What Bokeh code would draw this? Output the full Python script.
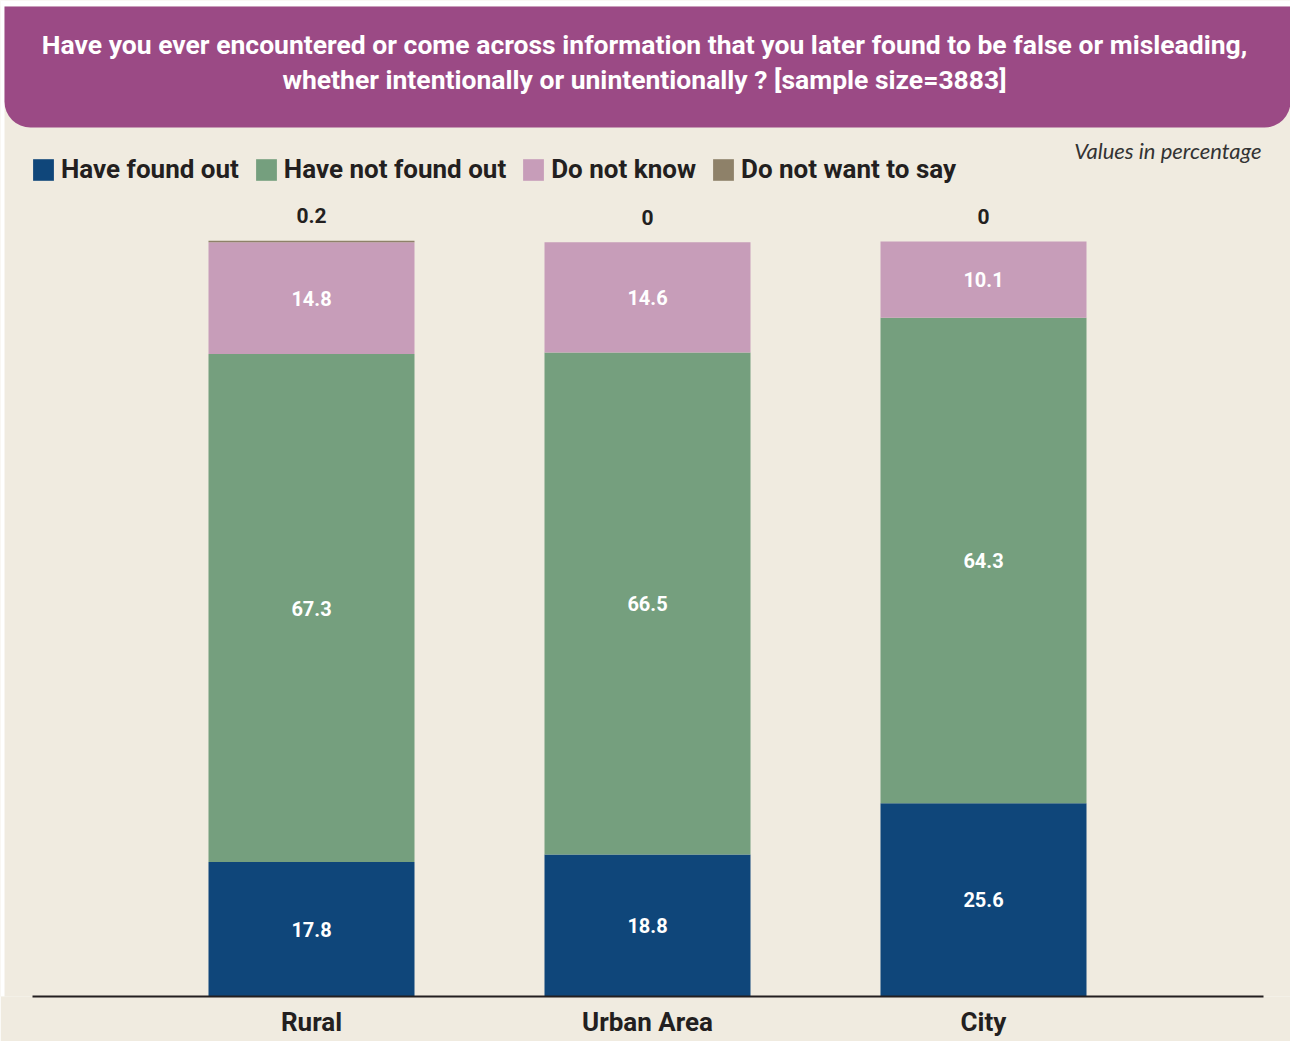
import numpy as np
from bokeh.plotting import figure
from bokeh.models import (ColumnDataSource, Range1d, BoxAnnotation, Legend,
                          LegendItem, FixedTicker)
from bokeh.core.properties import value
from bokeh.embed import file_html
from bokeh.resources import INLINE

# ---------------- data ----------------
categories = ["Rural", "Urban Area", "City"]
have_found_out = [17.8, 18.8, 25.6]
have_not_found_out = [67.3, 66.5, 64.3]
do_not_know = [14.8, 14.6, 10.1]
do_not_want_to_say = [0.2, 0, 0]
series_names = ["Have found out", "Have not found out", "Do not know", "Do not want to say"]
title_lines = [
    "Have you ever encountered or come across information that you later found to be false or misleading,",
    "whether intentionally or unintentionally ? [sample size=3883]",
]
note_text = ["Values in percentage"]

# ---------------- style ----------------
BG = "#F0EBE0"
PURPLE = "#9B4A85"
COLORS = ["#0F467A", "#759F7E", "#C79DB9", "#8E8169"]
DARK = "#231F20"
FONT = "Roboto"

W, H = 1290, 1041
FRAME_H = 996
PX_PER_CAT = 336.0
PX_PER_PCT = 7.55
X0_PX = 311.0


def xd(px):
    return (px - X0_PX) / PX_PER_CAT


def yd(py):
    return (FRAME_H - py) / PX_PER_PCT


p = figure(width=W, height=H,
           x_range=Range1d(xd(0), xd(W)), y_range=Range1d(0, yd(0)),
           output_backend="svg", toolbar_location=None,
           min_border_left=0, min_border_right=0, min_border_top=0, min_border_bottom=H - FRAME_H,
           y_axis_location=None, background_fill_color=BG, border_fill_color=BG,
           outline_line_color=None)
p.title.visible = False
p.grid.visible = False

# header and white page margins
p.add_layout(BoxAnnotation(right=xd(4), fill_color="white", fill_alpha=1, line_color=None, level="underlay"))
p.add_layout(BoxAnnotation(bottom=yd(6), fill_color="white", fill_alpha=1, line_color=None, level="underlay"))
p.add_layout(BoxAnnotation(left=xd(4), right=xd(1290), top=yd(6), bottom=yd(127),
                           fill_color=PURPLE, fill_alpha=1, line_color=None,
                           border_radius=(0, 0, 26, 26), level="underlay"))

p.text(x=[xd(644), xd(644)], y=[yd(44), yd(79)], text=title_lines,
       text_font=value(FONT), text_font_style="bold", text_font_size="26.5px",
       text_color="white", text_align="center", text_baseline="middle")

p.text(x=[xd(1261)], y=[yd(150)], text=note_text,
       text_font=value("Lato"), text_font_style="italic", text_font_size="22px",
       text_color="#333333", text_align="right", text_baseline="middle")

# ---------------- bars ----------------
xs = list(range(len(categories)))
keys = ["found", "not_found", "dont_know", "no_say"]
src = ColumnDataSource(dict(x=xs, found=have_found_out, not_found=have_not_found_out,
                            dont_know=do_not_know, no_say=do_not_want_to_say))
renderers = p.vbar_stack(keys, x="x", width=206 / PX_PER_CAT, color=COLORS,
                         line_color=None, source=src)

stack = np.array([have_found_out, have_not_found_out, do_not_know])
cum = np.cumsum(stack, axis=0)
mids = cum - stack / 2
for i in range(stack.shape[0]):
    p.text(x=xs, y=list(mids[i]), text=[f"{v:.1f}" for v in stack[i]],
           text_font=value(FONT), text_font_style="bold", text_font_size="20px",
           text_color="white", text_align="center", text_baseline="middle")

tops = cum[-1] + np.array(do_not_want_to_say)
p.text(x=xs, y=list(tops), text=[f"{v:g}" for v in do_not_want_to_say], y_offset=-25,
       text_font=value(FONT), text_font_style="bold", text_font_size="21px",
       text_color=DARK, text_align="center", text_baseline="middle")

# ---------------- axis ----------------
ax = p.xaxis[0]
ax.ticker = FixedTicker(ticks=xs)
ax.major_label_overrides = {i: c for i, c in zip(xs, categories)}
ax.major_tick_line_color = None
ax.minor_tick_line_color = None
ax.axis_line_color = DARK
ax.axis_line_width = 2
ax.bounds = (xd(32), xd(1263))
ax.major_label_text_font = FONT
ax.major_label_text_font_style = "bold"
ax.major_label_text_font_size = "26px"
ax.major_label_text_color = DARK
ax.major_label_standoff = 4

# ---------------- legend ----------------
legend = Legend(items=[LegendItem(label=n, renderers=[r]) for n, r in zip(series_names, renderers)],
                orientation="horizontal", location=(30, FRAME_H - 184),
                glyph_width=26, glyph_height=27, label_standoff=5, spacing=14,
                padding=0, margin=0, border_line_color=None, background_fill_alpha=0,
                label_text_font=FONT, label_text_font_style="bold",
                label_text_font_size="26px", label_text_color=DARK,
                label_height=27)
p.add_layout(legend)

open("out.html", "w").write(file_html(p, INLINE))
